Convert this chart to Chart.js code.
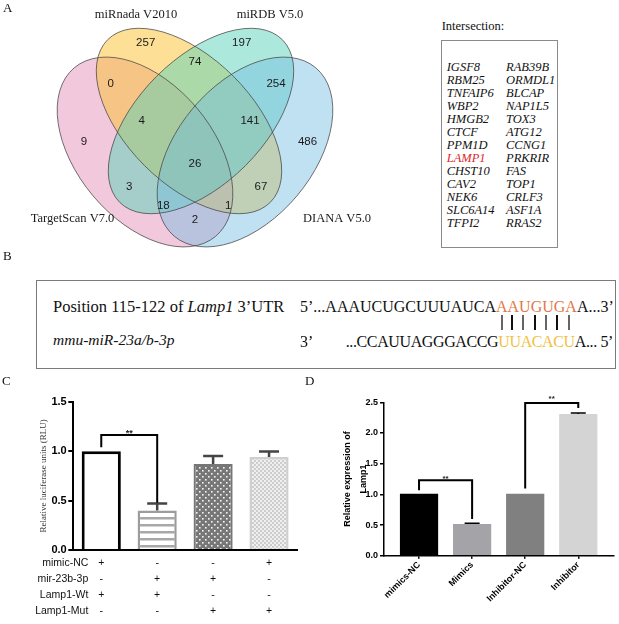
<!DOCTYPE html>
<html>
<head>
<meta charset="utf-8">
<script src="https://cdn.jsdelivr.net/npm/chart.js@4.4.0/dist/chart.umd.min.js"></script>
<style>
  body { margin: 0; background: #fff; }
  #page { position: relative; width: 619px; height: 624px; overflow: hidden; background: #fff;
          font-family: 'Liberation Serif', 'Times New Roman', serif; color: #111; }
  .abs { position: absolute; white-space: nowrap; line-height: 1; }
  canvas { position: absolute; }
</style>
</head>
<body>
<div id="page">
  <canvas id="venn" width="420" height="255" style="left:0;top:0"></canvas>
  <canvas id="lucChart" width="310" height="254" style="left:0;top:370px"></canvas>
  <canvas id="exprChart" width="309" height="254" style="left:310px;top:370px"></canvas>
</div>
<script>
// ---- A: predicted target overlap ----
const setNames = ['miRnada V2010', 'miRDB V5.0', 'TargetScan V7.0', 'DIANA V5.0']
const vennCounts = [257, 197, 74, 0, 254, 4, 141, 9, 486, 26, 3, 67, 18, 1, 2]
const geneColA = ['IGSF8', 'RBM25', 'TNFAIP6', 'WBP2', 'HMGB2', 'CTCF', 'PPM1D', 'LAMP1', 'CHST10', 'CAV2', 'NEK6', 'SLC6A14', 'TFPI2']
const geneColB = ['RAB39B', 'ORMDL1', 'BLCAP', 'NAP1L5', 'TOX3', 'ATG12', 'CCNG1', 'PRKRIR', 'FAS', 'TOP1', 'CRLF3', 'ASF1A', 'RRAS2']

// ---- C: luciferase reporter ----
const lucGroups = ['NC+Wt', 'miR+Wt', 'miR+Mut', 'NC+Mut']
const lucMeans = [1.0, 0.40, 0.87, 0.94]
const lucErrors = [0, 0.07, 0.08, 0.057]
const conditionNames = ['mimic-NC', 'mir-23b-3p', 'Lamp1-Wt', 'Lamp1-Mut']
const conditionSigns = [
  ['+', '-', '-', '+'],
  ['-', '+', '+', '-'],
  ['+', '+', '-', '-'],
  ['-', '-', '+', '+']
]

// ---- D: Lamp1 expression ----
const exprLabels = ['mimics-NC', 'Mimics', 'Inhibitor-NC', 'Inhibitor']
const exprMeans = [1.01, 0.515, 1.01, 2.31]
const exprErrors = [0, 0.012, 0, 0.016]

// layout of the venn (units = px of the venn canvas)
const vennSpots = [[145.7, 43.3], [241.7, 43.3], [195, 62.3], [110.7, 84.3], [276, 84.3], [141.7, 120.7], [250, 120.7],
  [84, 141.7], [307.5, 141.7], [195, 164.3], [129.3, 186.7], [261, 186.7], [163.3, 205.7], [228.3, 205.7], [195, 220]]
const setLabelSpots = [[136, 18.3], [270, 18.3], [72.5, 222], [337, 222]]
const vennShapes = [
  { cx: 145, cy: 152, rx: 110, ry: 68, rot: 50, fill: 'rgba(229,145,185,0.5)' },  // TargetScan
  { cx: 189, cy: 121, rx: 115, ry: 63, rot: 45, fill: 'rgba(251,193,45,0.5)' },   // miRnada
  { cx: 201, cy: 121, rx: 115, ry: 63, rot: -45, fill: 'rgba(90,212,185,0.5)' },  // miRDB
  { cx: 245, cy: 152, rx: 110, ry: 68, rot: -50, fill: 'rgba(115,189,225,0.45)' } // DIANA
]

// significance brackets, in data units of each chart
const lucBrackets = [{ from: 0, to: 1, left: 1.04, top: 1.163, right: 0.478, lift: 0 }]
const exprBrackets = [
  { from: 0, to: 1, left: 1.068, top: 1.231, right: 0.597, lift: 0 },
  { from: 2, to: 3, left: 1.096, top: 2.488, right: 2.407, lift: -3 }
]

const SANS = "'Liberation Sans', Arial, sans-serif"
const SERIF = "'Liberation Serif', 'Times New Roman', serif"
Chart.defaults.font.family = SANS
Chart.defaults.color = '#000'

// ---------- plain text parts ----------
const page = document.getElementById('page')
function put(html, left, baseline, size, css) {
  const d = document.createElement('div')
  d.className = 'abs'
  d.style.left = left + 'px'
  d.style.top = (baseline - 0.8375 * size) + 'px'
  d.style.fontSize = size + 'px'
  if (css) d.style.cssText += css
  d.innerHTML = html
  page.appendChild(d)
  return d
}
function box(left, top, w, h, border) {
  const d = document.createElement('div')
  d.style.cssText = `position:absolute;left:${left}px;top:${top}px;width:${w}px;height:${h}px;box-sizing:border-box;border:${border}`
  page.appendChild(d)
}

put('A', 3, 11.5, 13)
put('B', 3, 260, 13)
put('C', 2, 385, 13)
put('D', 305, 385, 13)

put('Intersection:', 441.7, 30, 12.5)
box(440.7, 40, 117, 208, '1px solid #8a8a8a')
geneColA.forEach((g, i) => put(`<i>${g}</i>`, 446.7, 71 + i * 13.06, 12.5, g === 'LAMP1' ? 'color:#e0262b' : ''))
geneColB.forEach((g, i) => put(`<i>${g}</i>`, 506, 71 + i * 13.06, 12.5))

box(36, 280, 580, 89, '1.5px solid #7a7a7a')
put('Position 115-122 of <i>Lamp1</i> 3’UTR', 53, 313, 16.5)
put('<i>mmu-miR-23a/b-3p</i>', 53, 344.5, 15.5)
put('5’...AAAUCUGCUUUAUCA<span style="color:#e2784a">AAUGUGA</span>A...3’', 300, 312, 16)
put('3’', 300, 347, 16)
put('...CCAUUAGGGACCG<span style="color:#f2bf3f">UUACACU</span>A... 5’', 345.7, 347, 16, 'letter-spacing:-0.38px')
;[501.7, 512.3, 523.3, 534.7, 546.3, 557.3, 568.7].forEach((x, i) => {
  const d = document.createElement('div')
  d.style.cssText = `position:absolute;left:${x - 1}px;top:315px;width:2px;height:15px;background:${i % 2 ? '#111' : '#666'}`
  page.appendChild(d)
})

// ---------- A: venn ----------
function traceEllipse(ctx, x, y, s) {
  ctx.beginPath()
  ctx.ellipse(x.getPixelForValue(s.cx), y.getPixelForValue(s.cy),
    x.getPixelForValue(s.rx) - x.getPixelForValue(0), y.getPixelForValue(s.ry) - y.getPixelForValue(0),
    s.rot * Math.PI / 180, 0, Math.PI * 2)
}

const vennPlugin = {
  id: 'vennShapes',
  beforeDatasetsDraw(chart) {
    const { ctx, scales: { x, y } } = chart
    ctx.save()
    vennShapes.forEach(s => {
      traceEllipse(ctx, x, y, s)
      ctx.fillStyle = s.fill
      ctx.fill()
    })
    ctx.strokeStyle = 'rgba(70,70,70,0.85)'
    ctx.lineWidth = 0.9
    vennShapes.forEach(s => {
      traceEllipse(ctx, x, y, s)
      ctx.stroke()
    })
    ctx.restore()
  },
  afterDatasetsDraw(chart) {
    const { ctx, scales: { x, y } } = chart
    const pts = chart.getDatasetMeta(0).data
    ctx.save()
    ctx.fillStyle = '#1a1a1a'
    ctx.font = '11.5px ' + SANS
    ctx.textAlign = 'center'
    ctx.textBaseline = 'middle'
    pts.forEach((p, i) => ctx.fillText(String(vennCounts[i]), p.x, p.y))
    ctx.font = '12.5px ' + SERIF
    ctx.textBaseline = 'alphabetic'
    setNames.forEach((n, i) => ctx.fillText(n, x.getPixelForValue(setLabelSpots[i][0]), y.getPixelForValue(setLabelSpots[i][1])))
    ctx.restore()
  }
}

new Chart(document.getElementById('venn'), {
  type: 'scatter',
  data: { datasets: [{ data: vennSpots.map(p => ({ x: p[0], y: p[1] })), pointRadius: 0 }] },
  options: {
    responsive: false,
    animation: false,
    layout: { padding: 0 },
    plugins: { legend: { display: false }, tooltip: { enabled: false } },
    scales: {
      x: { display: false, min: 0, max: 420 },
      y: { display: false, min: 0, max: 255, reverse: true }
    }
  },
  plugins: [vennPlugin]
})

// ---------- shared helpers ----------
function makePattern(w, h, draw) {
  const c = document.createElement('canvas')
  c.width = w
  c.height = h
  const g = c.getContext('2d')
  draw(g)
  return g.createPattern(c, 'repeat')
}

function drawErrors(chart, means, errs, cap, width, color) {
  const { ctx, scales: { y } } = chart
  const bars = chart.getDatasetMeta(0).data
  ctx.save()
  ctx.strokeStyle = color
  ctx.lineWidth = width
  errs.forEach((e, i) => {
    if (!e) return
    const cx = bars[i].x
    const top = y.getPixelForValue(means[i] + e)
    ctx.beginPath()
    ctx.moveTo(cx, y.getPixelForValue(means[i]))
    ctx.lineTo(cx, top)
    ctx.moveTo(cx - cap / 2, top)
    ctx.lineTo(cx + cap / 2, top)
    ctx.stroke()
  })
  ctx.restore()
}

function drawBrackets(chart, list, lw, fontSize) {
  const { ctx, scales: { y } } = chart
  const bars = chart.getDatasetMeta(0).data
  ctx.save()
  ctx.strokeStyle = '#000'
  ctx.lineWidth = lw
  ctx.fillStyle = '#222'
  ctx.font = 'bold ' + fontSize + 'px ' + SANS
  ctx.textAlign = 'center'
  ctx.textBaseline = 'alphabetic'
  list.forEach(b => {
    const x1 = bars[b.from].x
    const x2 = bars[b.to].x
    const yt = y.getPixelForValue(b.top)
    ctx.beginPath()
    ctx.moveTo(x1, y.getPixelForValue(b.left))
    ctx.lineTo(x1, yt)
    ctx.lineTo(x2, yt)
    ctx.lineTo(x2, y.getPixelForValue(b.right))
    ctx.stroke()
    ctx.fillText('**', (x1 + x2) / 2, yt + b.lift + 1)
  })
  ctx.restore()
}

// ---------- C: luciferase ----------
const plainFill = '#ffffff'
const stripeFill = makePattern(4, 7, g => {
  g.fillStyle = '#fff'; g.fillRect(0, 0, 4, 7)
  g.fillStyle = '#a8a8a8'; g.fillRect(0, 0, 4, 2.5)
})
const dotFill = makePattern(6, 6, g => {
  g.fillStyle = '#777'; g.fillRect(0, 0, 6, 6)
  g.fillStyle = '#f4f4f4'; g.fillRect(1, 1, 1.6, 1.6); g.fillRect(4, 4, 1.6, 1.6)
})
const checkFill = makePattern(4, 4, g => {
  g.fillStyle = '#efefef'; g.fillRect(0, 0, 4, 4)
  g.fillStyle = '#cdcdcd'; g.fillRect(0, 0, 2, 2); g.fillRect(2, 2, 2, 2)
})

const lucPlugin = {
  id: 'lucExtras',
  afterDatasetsDraw(chart) {
    drawErrors(chart, lucMeans, lucErrors, 20, 2.5, '#444')
    drawBrackets(chart, lucBrackets, 2, 9)
  },
  afterDraw(chart) {
    // +/- treatment table under the bars
    const { ctx, chartArea, scales: { x } } = chart
    ctx.save()
    ctx.fillStyle = '#111'
    ctx.font = '10.5px ' + SANS
    ctx.textBaseline = 'middle'
    conditionNames.forEach((name, r) => {
      const yy = chartArea.bottom + 13.5 + r * 15.8
      ctx.textAlign = 'right'
      ctx.fillText(name, chartArea.left + 15, yy)
      ctx.textAlign = 'center'
      conditionSigns[r].forEach((s, i) => ctx.fillText(s, x.getPixelForValue(i), yy))
    })
    ctx.restore()
  }
}

new Chart(document.getElementById('lucChart'), {
  type: 'bar',
  data: {
    labels: lucGroups,
    datasets: [{
      data: lucMeans,
      backgroundColor: [plainFill, stripeFill, dotFill, checkFill],
      borderColor: ['#000', '#9c9c9c', '#767676', '#cfcfcf'],
      borderWidth: [3, 2.5, 2, 2.5],
      barPercentage: 0.7,
      categoryPercentage: 1
    }]
  },
  options: {
    responsive: false,
    animation: false,
    layout: { padding: { top: 31.7, right: 13, left: 0, bottom: 0 } },
    plugins: { legend: { display: false }, tooltip: { enabled: false } },
    scales: {
      x: {
        ticks: { display: false },
        grid: { drawOnChartArea: false, drawTicks: false, color: '#000' },
        border: { color: '#000', width: 2 },
        afterFit: s => { s.height = 74 }
      },
      y: {
        min: 0,
        max: 1.5,
        ticks: { stepSize: 0.5, padding: 1.6, font: { size: 11, weight: 'bold' }, color: '#000', callback: v => v.toFixed(1) },
        grid: { drawOnChartArea: false, tickLength: 5, color: '#000', lineWidth: 2 },
        border: { color: '#000', width: 2 },
        title: { display: true, text: 'Relative luciferase units (RLU)', font: { family: SERIF, size: 9 }, color: '#333', padding: { top: 38, bottom: 0 } },
        afterFit: s => { s.width = 73.3 }
      }
    }
  },
  plugins: [lucPlugin]
})

// ---------- D: expression ----------
const exprPlugin = {
  id: 'exprExtras',
  afterDatasetsDraw(chart) {
    drawErrors(chart, exprMeans, exprErrors, 15, 1.5, '#000')
    drawBrackets(chart, exprBrackets, 2, 8)
  }
}

new Chart(document.getElementById('exprChart'), {
  type: 'bar',
  data: {
    datasets: [{
      data: exprMeans.map((v, i) => ({ x: i, y: v })),
      backgroundColor: ['#000000', '#a3a3a8', '#808080', '#d4d4d4'],
      borderWidth: 0,
      barPercentage: 0.72,
      categoryPercentage: 1
    }]
  },
  options: {
    responsive: false,
    animation: false,
    layout: { padding: { top: 32.3, right: 5.7, left: 0, bottom: 0 } },
    plugins: { legend: { display: false }, tooltip: { enabled: false } },
    scales: {
      x: {
        type: 'linear',
        offset: false,
        min: -0.66,
        max: 3.66,
        afterBuildTicks: s => { s.ticks = exprLabels.map((_, i) => ({ value: i })) },
        ticks: { autoSkip: false, minRotation: 45, maxRotation: 45, padding: 1, font: { size: 9, weight: 'bold' }, color: '#000', callback: v => exprLabels[v] },
        grid: { offset: false, drawOnChartArea: false, tickLength: 3, color: '#000', lineWidth: 1.5 },
        border: { color: '#000', width: 1.5 },
        afterFit: s => { s.height = 68.3 }
      },
      y: {
        min: 0,
        max: 2.5,
        ticks: { stepSize: 0.5, padding: 2, font: { size: 9, weight: 'bold' }, color: '#000', callback: v => v.toFixed(1) },
        grid: { drawOnChartArea: false, tickLength: 4, color: '#000', lineWidth: 1.5 },
        border: { color: '#000', width: 1.5 },
        title: { display: true, text: ['Relative expression of', 'Lamp1'], font: { size: 9, weight: 'bold', lineHeight: 1.67 }, color: '#000', padding: { top: 30.5, bottom: 0 } },
        afterFit: s => { s.width = 74 }
      }
    }
  },
  plugins: [exprPlugin]
})
</script>
</body>
</html>
